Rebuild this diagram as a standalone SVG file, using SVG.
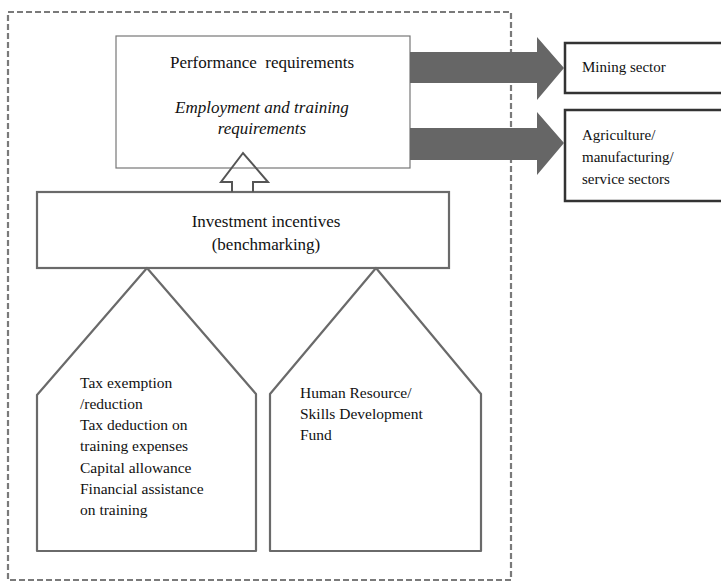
<svg xmlns="http://www.w3.org/2000/svg" width="721" height="583" viewBox="0 0 721 583">
<style>
.t{font-family:"Liberation Serif","Times New Roman",serif;fill:#111}
.h{font-size:17px}
.b{font-size:15.5px}
.s{font-size:15px}
.thin{fill:#fff;stroke:#777;stroke-width:1.2}
.thick{fill:#fff;stroke:#6a6a6a;stroke-width:2.2}
.dark{fill:#fff;stroke:#333;stroke-width:2.5}
.garrow{fill:#666;stroke:none}
</style>
<rect width="721" height="583" fill="#fff"/>
<rect id="frame" x="8" y="12" width="503" height="568" fill="none" stroke="#7a7a7a" stroke-width="2.2" stroke-dasharray="6,3"/>
<g id="performance">
<rect class="thin" x="116" y="36" width="294" height="132"/>
<text class="t h" x="262" y="68" text-anchor="middle" xml:space="preserve">Performance  requirements</text>
<text class="t h" x="262" y="113" text-anchor="middle" font-style="italic">Employment and training</text>
<text class="t h" x="262" y="134" text-anchor="middle" font-style="italic">requirements</text>
</g>
<g id="investment">
<rect class="thick" x="37" y="192" width="412" height="76"/>
<text class="t h" x="266" y="227" text-anchor="middle">Investment incentives</text>
<text class="t h" x="266" y="250" text-anchor="middle">(benchmarking)</text>
</g>
<g id="tax">
<path class="thick" d="M147,268 L256,394 L256,551 L37,551 L37,395 Z" stroke-linejoin="round"/>
<text class="t b" x="80" y="388">Tax exemption</text>
<text class="t b" x="80" y="409">/reduction</text>
<text class="t b" x="80" y="430">Tax deduction on</text>
<text class="t b" x="80" y="451">training expenses</text>
<text class="t b" x="80" y="473">Capital allowance</text>
<text class="t b" x="80" y="494">Financial assistance</text>
<text class="t b" x="80" y="515">on training</text>
</g>
<g id="hrfund">
<path class="thick" d="M376,268 L481,394 L481,551 L270,551 L270,394 Z" stroke-linejoin="round"/>
<text class="t b" x="300" y="398">Human Resource/</text>
<text class="t b" x="300" y="419">Skills Development</text>
<text class="t b" x="300" y="440">Fund</text>
</g>
<g id="mining">
<rect class="dark" x="565" y="43" width="170" height="50"/>
<text class="t s" x="582" y="72">Mining sector</text>
</g>
<g id="agriculture">
<rect class="dark" x="565" y="110" width="170" height="91"/>
<text class="t s" x="582" y="140">Agriculture/</text>
<text class="t s" x="582" y="162">manufacturing/</text>
<text class="t s" x="582" y="184">service sectors</text>
</g>
<g id="connectors">
<path d="M232,192 L232,182 L221,182 L243,153 L268,182 L253,182 L253,192" fill="none" stroke="#555" stroke-width="2" stroke-linejoin="miter"/>
<path class="garrow" d="M410,52 L537,52 L537,37 L564,68 L537,100 L537,83 L410,83 Z"/>
<path class="garrow" d="M410,128 L537,128 L537,112 L564,143 L537,175 L537,160 L410,160 Z"/>
</g>
</svg>
